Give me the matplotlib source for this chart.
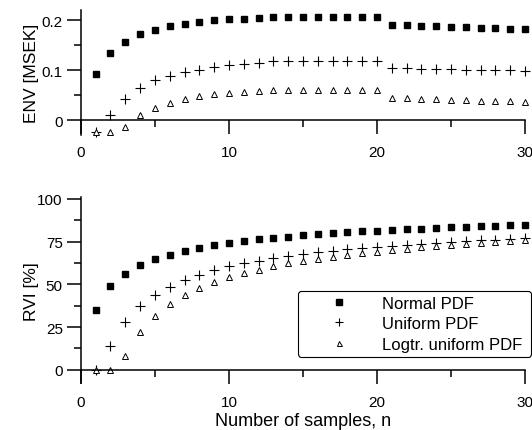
import matplotlib
matplotlib.use("Agg")
import matplotlib.pyplot as plt
from matplotlib.ticker import MultipleLocator
import numpy as np

plt.rcParams['font.family'] = ['Liberation Sans', 'DejaVu Sans']

n = list(range(1, 31))

env_normal = [0.092, 0.135, 0.157, 0.172, 0.181, 0.189, 0.193, 0.197, 0.200, 0.202,
              0.203, 0.205, 0.207, 0.207, 0.207, 0.207, 0.207, 0.207, 0.207, 0.207,
              0.191, 0.190, 0.189, 0.188, 0.187, 0.186, 0.185, 0.184, 0.183, 0.182]
env_uniform = [-0.023, 0.011, 0.043, 0.065, 0.080, 0.089, 0.097, 0.101, 0.106, 0.110,
               0.112, 0.115, 0.118, 0.118, 0.119, 0.119, 0.119, 0.119, 0.119, 0.119,
               0.104, 0.104, 0.103, 0.103, 0.102, 0.101, 0.101, 0.100, 0.100, 0.099]
env_logtr = [-0.023, -0.023, -0.013, 0.010, 0.025, 0.034, 0.042, 0.049, 0.052, 0.054,
             0.057, 0.059, 0.061, 0.061, 0.061, 0.061, 0.061, 0.061, 0.061, 0.061,
             0.044, 0.044, 0.043, 0.042, 0.041, 0.040, 0.039, 0.038, 0.038, 0.037]

rvi_normal = [35.1, 48.8, 56.1, 61.1, 64.7, 67.3, 69.4, 71.2, 72.9, 74.3,
              75.3, 76.3, 77.2, 77.9, 78.6, 79.3, 79.9, 80.4, 80.9, 81.4,
              81.8, 82.2, 82.6, 83.0, 83.3, 83.7, 84.0, 84.3, 84.6, 84.9]
rvi_uniform = [0.0, 14.0, 28.1, 37.3, 43.9, 48.5, 52.5, 55.6, 58.1, 60.5,
               62.4, 63.7, 65.1, 66.4, 67.6, 68.6, 69.6, 70.4, 71.2, 71.9,
               72.6, 73.2, 73.8, 74.3, 74.8, 75.3, 75.7, 76.1, 76.5, 76.8]
rvi_logtr = [0.0, 0.0, 7.8, 21.9, 31.4, 38.4, 43.7, 47.6, 51.1, 54.4,
             56.5, 58.5, 60.8, 62.2, 63.6, 64.9, 66.1, 67.2, 68.2, 69.1,
             70.0, 70.8, 71.6, 72.3, 73.0, 73.6, 74.2, 74.7, 75.2, 75.7]

labels = ["Normal PDF", "Uniform PDF", "Logtr. uniform PDF"]

fig = plt.figure(figsize=(5.32, 4.31), dpi=100)
ax1 = fig.add_axes([0.152, 0.684, 0.835, 0.290])
ax2 = fig.add_axes([0.152, 0.108, 0.835, 0.4325])

def style(ax):
    for s in ['top', 'right']:
        ax.spines[s].set_visible(False)
    ax.spines['bottom'].set_position(('data', 0))
    for s in ['left', 'bottom']:
        ax.spines[s].set_linewidth(1.1)
    ax.set_xlim(0, 30)
    ax.xaxis.set_major_locator(MultipleLocator(10))
    ax.xaxis.set_minor_locator(MultipleLocator(5))
    ax.tick_params(axis='x', which='major', direction='out', length=10, width=1.1, pad=8, labelsize=11)
    ax.tick_params(axis='x', which='minor', direction='out', length=5, width=1.1)
    ax.tick_params(axis='y', which='major', direction='out', length=10, width=1.1, pad=3, labelsize=11)
    ax.tick_params(axis='y', which='minor', direction='out', length=5, width=1.1)

def plot_series(ax, a, b, c):
    ax.plot(n, a, ls='none', marker='s', ms=5, color='black', mec='black', label=labels[0], clip_on=False)
    ax.plot(n, b, ls='none', marker='+', ms=7, mew=0.8, color='black', label=labels[1], clip_on=False)
    ax.plot(n, c, ls='none', marker='^', ms=4.5, mew=0.7, mfc='white', mec='black', label=labels[2], clip_on=False)

style(ax1)
plot_series(ax1, env_normal, env_uniform, env_logtr)
ax1.set_ylim(-0.03, 0.22)
ax1.yaxis.set_minor_locator(MultipleLocator(0.05))
ax1.set_yticks([0, 0.1, 0.2])
ax1.set_yticklabels(["0", "0.1", "0.2"])
ax1.set_ylabel("ENV [MSEK]", fontsize=12.5)
ax1.yaxis.set_label_coords(-0.095, 0.5)

style(ax2)
plot_series(ax2, rvi_normal, rvi_uniform, rvi_logtr)
ax2.set_ylim(-8, 101)
ax2.set_yticks([0, 25, 50, 75, 100])
ax2.yaxis.set_minor_locator(MultipleLocator(12.5))
ax2.set_ylabel("RVI [%]", fontsize=12.5)
ax2.yaxis.set_label_coords(-0.095, 0.5)
ax2.set_xlabel("Number of samples, n", fontsize=13)
ax2.xaxis.set_label_coords(0.5, -0.155)

leg = ax2.legend(loc='lower left', bbox_to_anchor=(0.488, 0.143, 0.525, 0.349), mode='expand',
                 borderaxespad=0, fontsize=12, frameon=True, fancybox=True, edgecolor='black',
                 framealpha=1, handletextpad=0.4, borderpad=0.3, labelspacing=0.33,
                 handlelength=4.36, markerscale=0.8)
leg.get_frame().set_linewidth(0.8)

fig.savefig("out.png", dpi=100)
